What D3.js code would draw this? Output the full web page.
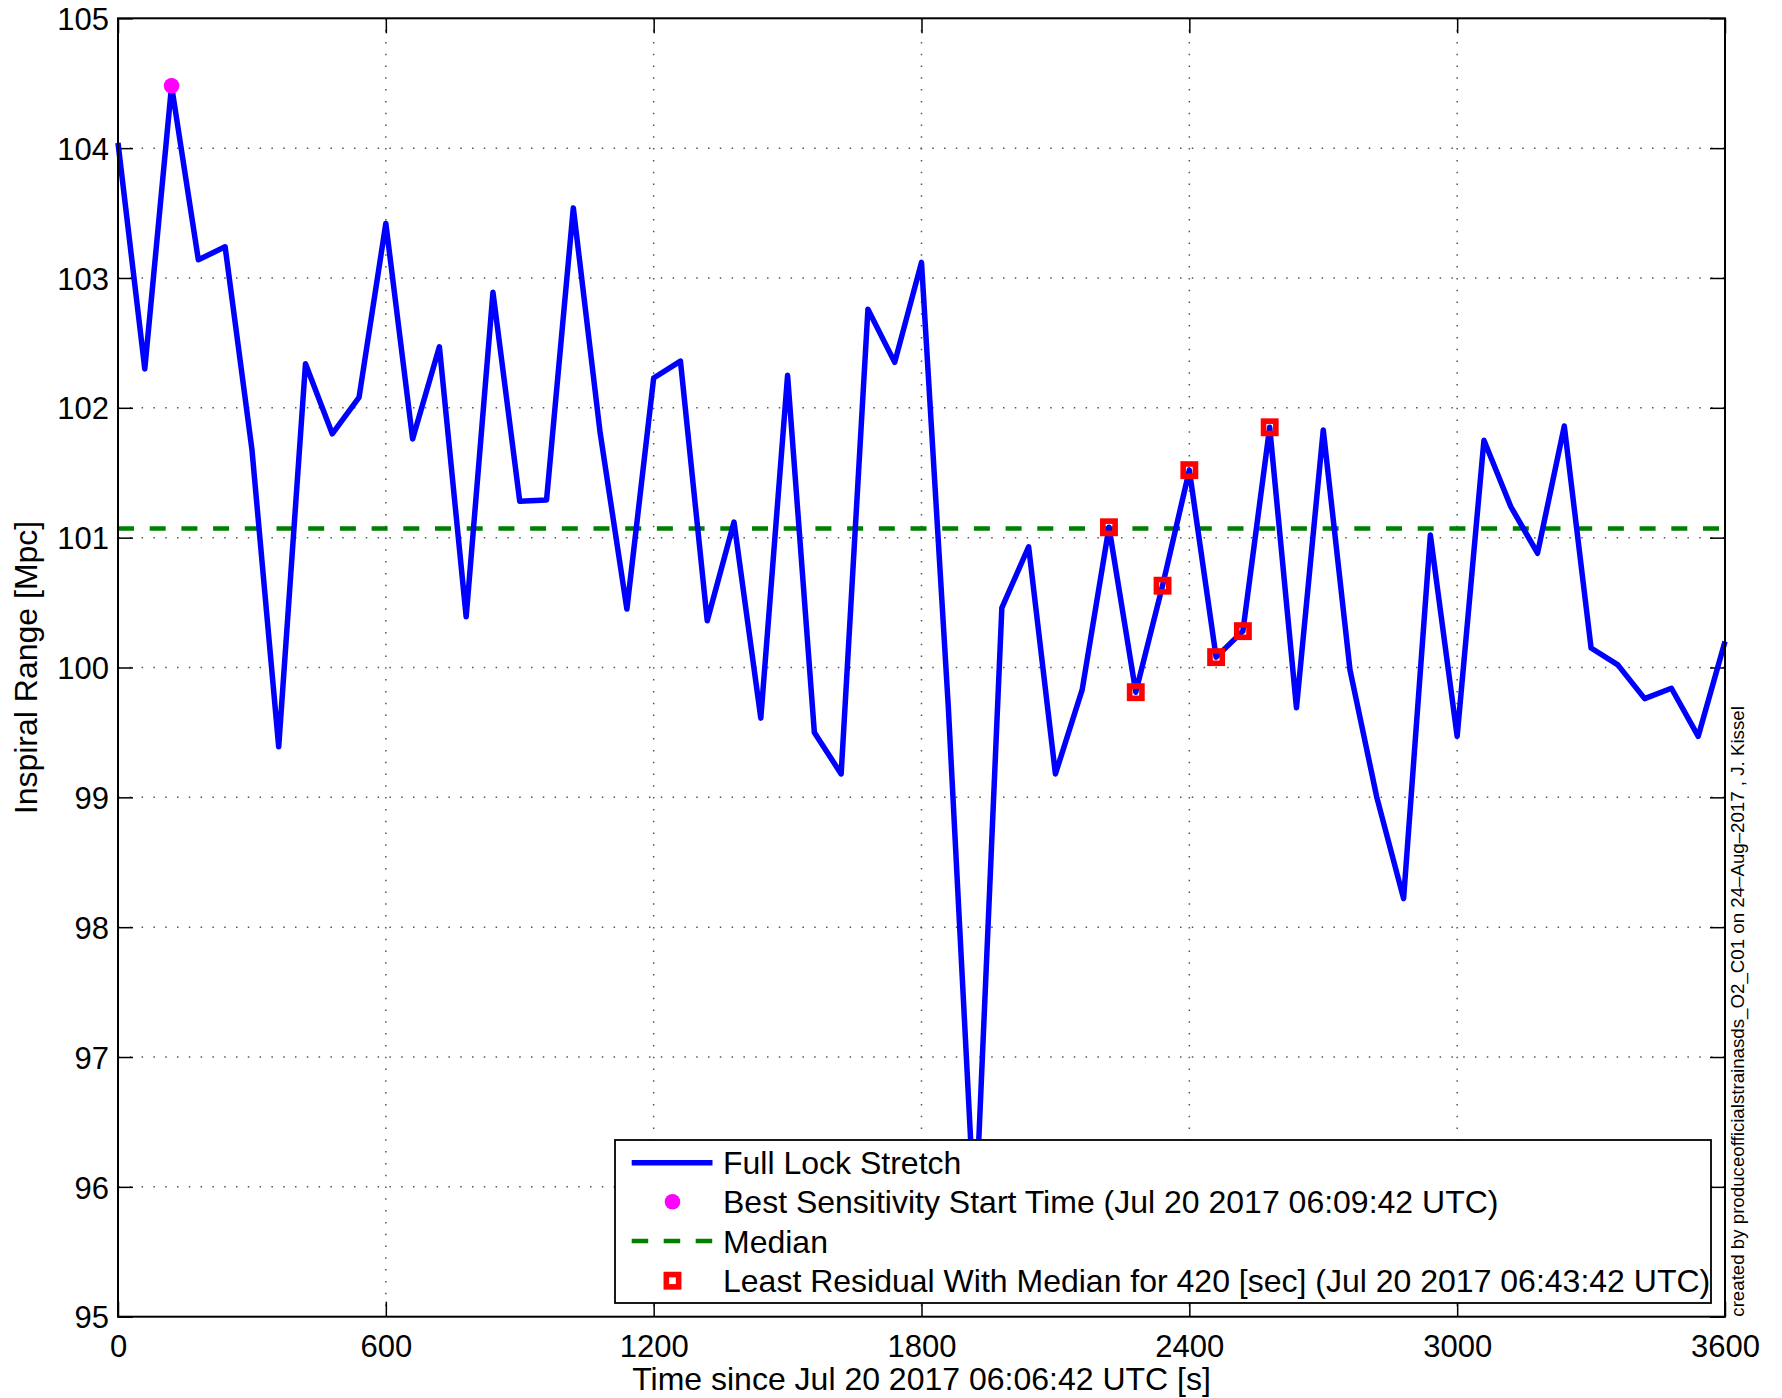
<!DOCTYPE html>
<html>
<head>
<meta charset="utf-8">
<script src="https://cdn.jsdelivr.net/npm/d3@7/dist/d3.min.js"></script>
<style>
  html, body { margin: 0; padding: 0; background: #fff; }
  svg { display: block; }
  text { font-family: "Liberation Sans", Arial, Helvetica, sans-serif; fill: #000; }
</style>
</head>
<body>
<svg id="chart" width="1782" height="1398"></svg>
<script>
// ---- data ----
const times = [0, 60, 120, 180, 240, 300, 360, 420, 480, 540,
  600, 660, 720, 780, 840, 900, 960, 1020, 1080, 1140,
  1200, 1260, 1320, 1380, 1440, 1500, 1560, 1620, 1680, 1740,
  1800, 1860, 1920, 1980, 2040, 2100, 2160, 2220, 2280, 2340,
  2400, 2460, 2520, 2580, 2640, 2700, 2760, 2820, 2880, 2940,
  3000, 3060, 3120, 3180, 3240, 3300, 3360, 3420, 3480, 3540, 3600];
const rangeMpc = [104.04, 102.30, 104.48, 103.14, 103.24, 101.68, 99.39, 102.34, 101.80, 102.08,
  103.42, 101.76, 102.47, 100.39, 102.89, 101.28, 101.29, 103.54, 101.81, 100.45,
  102.23, 102.36, 100.36, 101.12, 99.61, 102.25, 99.50, 99.18, 102.76, 102.35,
  103.12, 99.70, 95.70, 100.46, 100.93, 99.18, 99.83, 101.08, 99.81, 100.63,
  101.52, 100.08, 100.28, 101.85, 99.69, 101.83, 99.98, 99.00, 98.22, 101.02,
  99.47, 101.75, 101.24, 100.88, 101.86, 100.15, 100.02, 99.76, 99.84, 99.47, 100.20];
const medianValue = 101.07;
const bestTime = 120;
const residualTimes = [2220, 2280, 2340, 2400, 2460, 2520, 2580];
const xTicks = [0, 600, 1200, 1800, 2400, 3000, 3600];
const yTicks = [95, 96, 97, 98, 99, 100, 101, 102, 103, 104, 105];
const legendLabels = [
  "Full Lock Stretch",
  "Best Sensitivity Start Time (Jul 20 2017 06:09:42 UTC)",
  "Median",
  "Least Residual With Median for 420 [sec] (Jul 20 2017 06:43:42 UTC)"
];
const xLabel = "Time since Jul 20 2017 06:06:42 UTC [s]";
const yLabel = "Inspiral Range [Mpc]";
const creditText = "created by produceofficialstrainasds_O2_C01 on 24\u2013Aug\u20132017 , J. Kissel";

// ---- layout ----
const L = 118, R = 1725, T = 18.3, B = 1316.7;
const W = R - L, H = B - T;
const svg = d3.select("#chart");

const x = d3.scaleLinear().domain([0, 3600]).range([L, R]);
const y = d3.scaleLinear().domain([95, 105]).range([B, T]);

const points = times.map((t, i) => ({ t, v: rangeMpc[i] }));

// grid
const grid = svg.append("g").attr("class", "grid");
grid.selectAll("line.gx").data(xTicks.slice(1, -1)).join("line")
  .attr("x1", d => x(d)).attr("x2", d => x(d))
  .attr("y1", T).attr("y2", B)
  .attr("stroke", "#555").attr("stroke-width", 1.5)
  .attr("stroke-dasharray", "1.5,10.3");
grid.selectAll("line.gy").data(yTicks.slice(1, -1)).join("line")
  .attr("x1", L).attr("x2", R)
  .attr("y1", d => y(d)).attr("y2", d => y(d))
  .attr("stroke", "#555").attr("stroke-width", 1.5)
  .attr("stroke-dasharray", "1.5,10.3");

// axes (ticks inward, all four sides)
const tickLen = 15;
function styleAxis(g) {
  g.select(".domain").remove();
  g.selectAll(".tick line").attr("stroke", "#000").attr("stroke-width", 1.5);
  g.selectAll(".tick text").attr("font-size", 31)
    .attr("font-family", "'Liberation Sans', Arial, sans-serif").attr("fill", "#000");
}
const axB = svg.append("g").attr("transform", `translate(0,${B})`)
  .call(d3.axisBottom(x).tickValues(xTicks).tickSizeInner(-tickLen).tickSizeOuter(0).tickPadding(0).tickFormat(d3.format("d")));
styleAxis(axB);
axB.selectAll(".tick text").attr("dy", null).attr("y", 40);

const axT = svg.append("g").attr("transform", `translate(0,${T})`)
  .call(d3.axisTop(x).tickValues(xTicks).tickSizeInner(-tickLen).tickSizeOuter(0).tickFormat(""));
styleAxis(axT);

const axL = svg.append("g").attr("transform", `translate(${L},0)`)
  .call(d3.axisLeft(y).tickValues(yTicks).tickSizeInner(-tickLen).tickSizeOuter(0).tickPadding(0).tickFormat(d3.format("d")));
styleAxis(axL);
axL.selectAll(".tick text").attr("x", -9).attr("dy", "0.36em");

const axR = svg.append("g").attr("transform", `translate(${R},0)`)
  .call(d3.axisRight(y).tickValues(yTicks).tickSizeInner(-tickLen).tickSizeOuter(0).tickFormat(""));
styleAxis(axR);

// median line
svg.append("line")
  .attr("x1", x(0)).attr("x2", x(3600))
  .attr("y1", y(medianValue)).attr("y2", y(medianValue))
  .attr("stroke", "#008000").attr("stroke-width", 4.5)
  .attr("stroke-dasharray", "16,15.7");

// data line
const line = d3.line().x(d => x(d.t)).y(d => y(d.v));
svg.append("path").datum(points)
  .attr("d", line)
  .attr("fill", "none").attr("stroke", "#0000ff")
  .attr("stroke-width", 5.5).attr("stroke-linejoin", "round").attr("stroke-linecap", "butt");

// best sensitivity dot
const bestPt = points.find(p => p.t === bestTime);
svg.append("circle")
  .attr("cx", x(bestPt.t)).attr("cy", y(bestPt.v)).attr("r", 7.8)
  .attr("fill", "#ff00ff");

// residual squares
const sq = 12.3;
svg.selectAll("rect.res").data(points.filter(p => residualTimes.includes(p.t))).join("rect")
  .attr("class", "res")
  .attr("x", d => x(d.t) - sq / 2).attr("y", d => y(d.v) - sq / 2)
  .attr("width", sq).attr("height", sq)
  .attr("fill", "none").attr("stroke", "#ff0000").attr("stroke-width", 5.6);

// plot box
svg.append("rect")
  .attr("x", L).attr("y", T).attr("width", W).attr("height", H)
  .attr("fill", "none").attr("stroke", "#000").attr("stroke-width", 2);

// axis labels
svg.append("text")
  .attr("x", (L + R) / 2).attr("y", 1390)
  .attr("text-anchor", "middle").attr("font-size", 32)
  .text(xLabel);
svg.append("text")
  .attr("transform", `translate(37,${(T + B) / 2}) rotate(-90)`)
  .attr("text-anchor", "middle").attr("font-size", 32)
  .text(yLabel);

// credit text
svg.append("text")
  .attr("transform", `translate(1744,${B}) rotate(-90)`)
  .attr("text-anchor", "start").attr("font-size", 18.7)
  .text(creditText);

// legend
const lg = svg.append("g");
const lgX = 615, lgY = 1140, lgW = 1096, lgH = 163;
lg.append("rect").attr("x", lgX).attr("y", lgY).attr("width", lgW).attr("height", lgH)
  .attr("fill", "#fff").attr("stroke", "#000").attr("stroke-width", 1.8);
const rowY = [1162.7, 1201.7, 1241, 1280.7];
const symX0 = 631.7, symX1 = 712.5, symC = 672.5, txtX = 723;
lg.append("line").attr("x1", symX0).attr("x2", symX1).attr("y1", rowY[0]).attr("y2", rowY[0])
  .attr("stroke", "#0000ff").attr("stroke-width", 5.5);
lg.append("circle").attr("cx", symC).attr("cy", rowY[1]).attr("r", 7.8).attr("fill", "#ff00ff");
lg.append("line").attr("x1", symX0).attr("x2", symX1).attr("y1", rowY[2]).attr("y2", rowY[2])
  .attr("stroke", "#008000").attr("stroke-width", 4.5).attr("stroke-dasharray", "16.5,15.5");
lg.append("rect").attr("x", symC - sq / 2).attr("y", rowY[3] - sq / 2).attr("width", sq).attr("height", sq)
  .attr("fill", "none").attr("stroke", "#ff0000").attr("stroke-width", 5.6);
lg.selectAll("text.lt").data(legendLabels).join("text")
  .attr("class", "lt")
  .attr("x", txtX).attr("y", (d, i) => rowY[i]).attr("dy", "0.36em")
  .attr("font-size", 32)
  .text(d => d);
</script>
</body>
</html>
